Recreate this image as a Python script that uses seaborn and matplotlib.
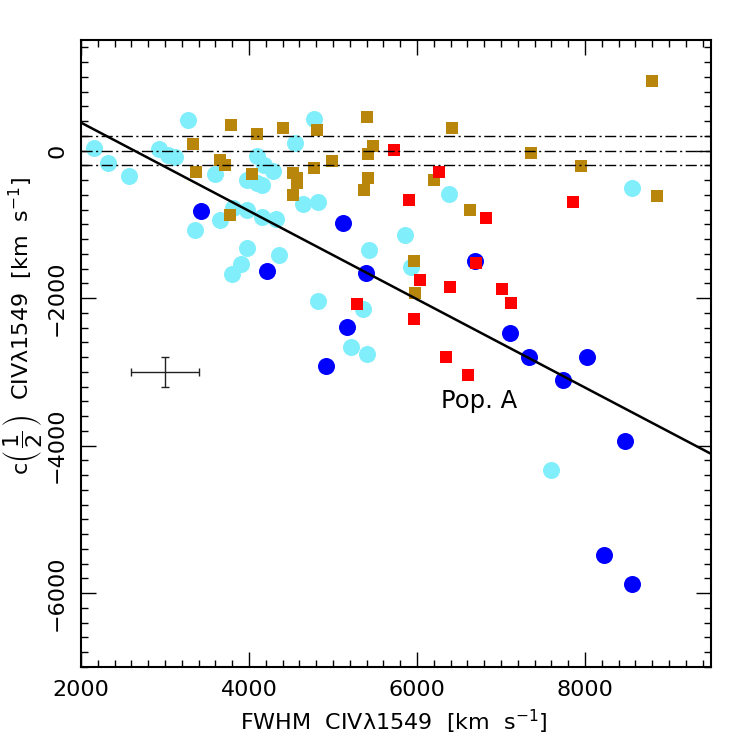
import matplotlib
matplotlib.use("Agg")
import matplotlib.pyplot as plt
from matplotlib.ticker import MultipleLocator
import numpy as np
import pandas as pd
import seaborn as sns

# ---- data ----
cyan_x = [2160, 2325, 2571, 3270, 2925, 3040, 3119, 3599, 3973, 4091, 4179, 4290,
          4099, 4159, 4551, 4774, 4639, 4825, 3813, 3973, 3655, 3357, 4151, 4321,
          3980, 4361, 3901, 3798, 5433, 5857, 5925, 6381, 8563, 4825, 5361, 5214,
          5409, 7591]
cyan_y = [30, -167, -348, 421, 27, -64, -91, -312, -393, -77, -190, -281,
          -439, -461, 104, 430, -719, -701, -778, -801, -936, -1072, -905, -927,
          -1321, -1416, -1538, -1669, -1343, -1140, -1583, -593, -502, -2035, -2148, -2668,
          -2763, -4328]

blue_x = [3429, 5123, 4210, 5393, 5163, 4913, 6687, 7103, 7333, 8028, 7738, 8476, 8226, 8556]
blue_y = [-818, -981, -1637, -1660, -2397, -2926, -1493, -2469, -2795, -2800, -3107, -3931, -5486, -5880]

gold_x = [3790, 4091, 4401, 4813, 5401, 5473, 5417, 3337, 3369, 3655, 3710, 4036,
          4520, 4575, 4575, 4520, 4778, 4984, 5417, 5373, 3774, 6421, 7357, 8801,
          7952, 8857, 6206, 6635, 5960, 5976]
gold_y = [348, 231, 312, 285, 457, 58, -41, 95, -294, -122, -190, -321,
          -303, -371, -439, -597, -231, -145, -371, -538, -877, 308, -37, 940,
          -213, -620, -403, -801, -1502, -1931]

red_x = [5722, 6266, 5908, 7857, 6825, 6702, 6032, 6397, 7012, 7115, 5960, 6349, 6604, 5282]
red_y = [9, -285, -669, -701, -913, -1524, -1750, -1849, -1877, -2072, -2280, -2791, -3044, -2076]

fit_x = [2000, 9500]
fit_y = [380, -4110]

ref_levels = [-200, 0, 200]

err_x, err_y = [3000], [-3000]
err_dx, err_dy = [400], [200]

x_ticks = [2000, 4000, 6000, 8000]
y_ticks = [-6000, -4000, -2000, 0]

label_text = "Pop. A"
label_x, label_y = 6290, -3400

# ---- styling ----
sns.set_theme(style="ticks")
plt.rcParams["font.family"] = ["DejaVu Sans"]
plt.rcParams["mathtext.fontset"] = "dejavusans"
for k in ["text.color", "axes.labelcolor", "xtick.color", "ytick.color", "axes.edgecolor"]:
    plt.rcParams[k] = "black"

fig = plt.figure(figsize=(7.47, 7.47), dpi=100)
ax = fig.add_axes([81 / 747, 1 - 667 / 747, 630 / 747, 627 / 747])

df_c = pd.DataFrame({"x": cyan_x, "y": cyan_y})
df_g = pd.DataFrame({"x": gold_x, "y": gold_y})
df_b = pd.DataFrame({"x": blue_x, "y": blue_y})
df_r = pd.DataFrame({"x": red_x, "y": red_y})

sns.scatterplot(data=df_c, x="x", y="y", ax=ax, color="#80EFFB", marker="o",
                s=150, linewidth=0, zorder=2)
sns.scatterplot(data=df_g, x="x", y="y", ax=ax, color="#B8860B", marker="s",
                s=72, linewidth=0, zorder=3)
sns.scatterplot(data=df_b, x="x", y="y", ax=ax, color="#0000FF", marker="o",
                s=150, linewidth=0, zorder=4)
sns.scatterplot(data=df_r, x="x", y="y", ax=ax, color="#FF0000", marker="s",
                s=76, linewidth=0, zorder=5)

for lv in ref_levels:
    ax.axhline(lv, color="black", lw=1.0, dashes=(8, 2.5, 1.5, 2.5), zorder=6)

sns.lineplot(x=fit_x, y=fit_y, ax=ax, color="black", lw=1.8, zorder=7)

ax.errorbar(err_x, err_y, xerr=err_dx, yerr=err_dy, fmt="none", ecolor="#222222",
            elinewidth=1.0, capsize=3, capthick=1.0, zorder=8)

ax.text(label_x, label_y, label_text, fontsize=17.5, ha="left", va="center",
        color="black", zorder=9)

ax.set_xlim(2000, 9500)
ax.set_ylim(-7000, 1500)
ax.set_xticks(x_ticks)
ax.set_yticks(y_ticks)
ax.xaxis.set_minor_locator(MultipleLocator(200))
ax.yaxis.set_minor_locator(MultipleLocator(200))
ax.tick_params(which="both", direction="in", top=True, right=True, color="black",
               width=1.0, labelcolor="black")
ax.tick_params(which="major", length=11, labelsize=16, pad=9)
ax.tick_params(which="minor", length=5)
ax.tick_params(axis="y", which="major", pad=10)
for lab in ax.get_yticklabels():
    lab.set_rotation(90)
    lab.set_va("center")
for sp in ax.spines.values():
    sp.set_linewidth(1.5)
    sp.set_color("black")
ax.set_xlabel("")
ax.set_ylabel("")

fig.text(394 / 747, 1 - 722 / 747, "FWHM  CIVλ1549  [km  s$^{-1}$]", fontsize=16,
         ha="center", va="center")
fig.text(23 / 747, 1 - 326 / 747,
         r"c$\left(\,\dfrac{1}{2}\,\right)$  CIVλ1549  [km  s$^{-1}$]", fontsize=16,
         ha="center", va="center", rotation=90)

fig.savefig("out.png", dpi=100)
